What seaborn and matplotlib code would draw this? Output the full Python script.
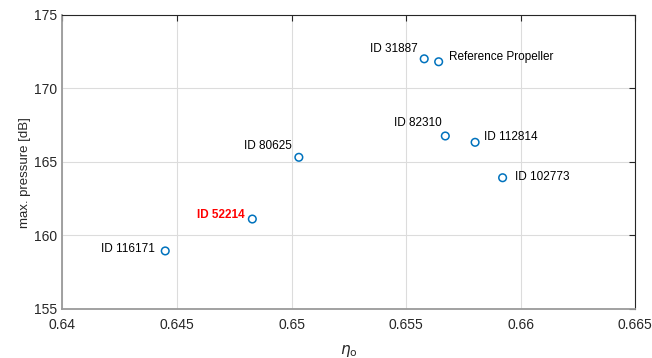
import numpy as np
import pandas as pd
import matplotlib
matplotlib.use("Agg")
import matplotlib.pyplot as plt
import seaborn as sns

# data
labels = ["ID 116171", "ID 52214", "ID 80625", "ID 31887", "Reference Propeller",
          "ID 82310", "ID 112814", "ID 102773"]
eta_o = [0.64449, 0.64829, 0.65032, 0.65579, 0.65642, 0.65671, 0.65801, 0.65921]
max_pressure = [158.93, 161.10, 165.30, 172.00, 171.80, 166.75, 166.32, 163.91]

x_ticks = [0.64, 0.645, 0.65, 0.655, 0.66, 0.665]
x_tick_labels = ["0.64", "0.645", "0.65", "0.655", "0.66", "0.665"]
y_ticks = [155, 160, 165, 170, 175]

df = pd.DataFrame({"eta": eta_o, "p": max_pressure, "label": labels})

# label placement: (dx px, dy px, horizontal alignment)
label_pos = {
    "ID 116171": (-10, 2, "right"),
    "ID 52214": (-8, 4, "right"),
    "ID 80625": (-7, 11, "right"),
    "ID 31887": (-6, 10, "right"),
    "Reference Propeller": (10, 5, "left"),
    "ID 82310": (-4, 13, "right"),
    "ID 112814": (9, 5, "left"),
    "ID 102773": (12, 1, "left"),
}

sns.set_style("white")
plt.rcParams["font.family"] = ["Liberation Sans", "DejaVu Sans"]

fig = plt.figure(figsize=(6.52, 3.58), dpi=100)
ax = fig.add_axes([0.0956, 0.1377, 0.9744 - 0.0956, 0.9589 - 0.1377])

sns.scatterplot(data=df, x="eta", y="p", ax=ax, marker="o", s=30,
                facecolor="none", edgecolor="#0072BD", linewidth=1.1, zorder=3)

for lab, x, y in zip(labels, eta_o, max_pressure):
    dx, dy, ha = label_pos[lab]
    red = lab == "ID 52214"
    ax.annotate(lab, (x, y), xytext=(dx, dy), textcoords="offset pixels",
                ha=ha, va="center", fontsize=8.5,
                color="red" if red else "black",
                fontweight="bold" if red else "normal")

ax.set_xlim(0.64, 0.665)
ax.set_ylim(155, 175)
ax.set_xticks(x_ticks)
ax.set_xticklabels(x_tick_labels)
ax.set_yticks(y_ticks)
ax.grid(True, color="#dcdcdc", linewidth=0.8)
ax.set_axisbelow(True)

for side in ["top", "right"]:
    ax.spines[side].set_color("#262626")
    ax.spines[side].set_linewidth(0.8)
for side in ["left", "bottom"]:
    ax.spines[side].set_color("#9a9a9a")
    ax.spines[side].set_linewidth(1.3)

ax.tick_params(direction="in", length=4.5, width=0.8, color="#262626",
               labelcolor="#262626", labelsize=10, top=True, right=True)
ax.tick_params(axis="x", pad=6.5)
ax.tick_params(axis="y", pad=4)

ax.set_xlabel(r"$\eta_{\rm o}$", fontsize=11, color="#262626", labelpad=8)
ax.set_ylabel("max. pressure [dB]", fontsize=9.5, color="#262626")
ax.yaxis.set_label_coords(-0.0546, 0.463)

fig.savefig("out.png", dpi=100)
